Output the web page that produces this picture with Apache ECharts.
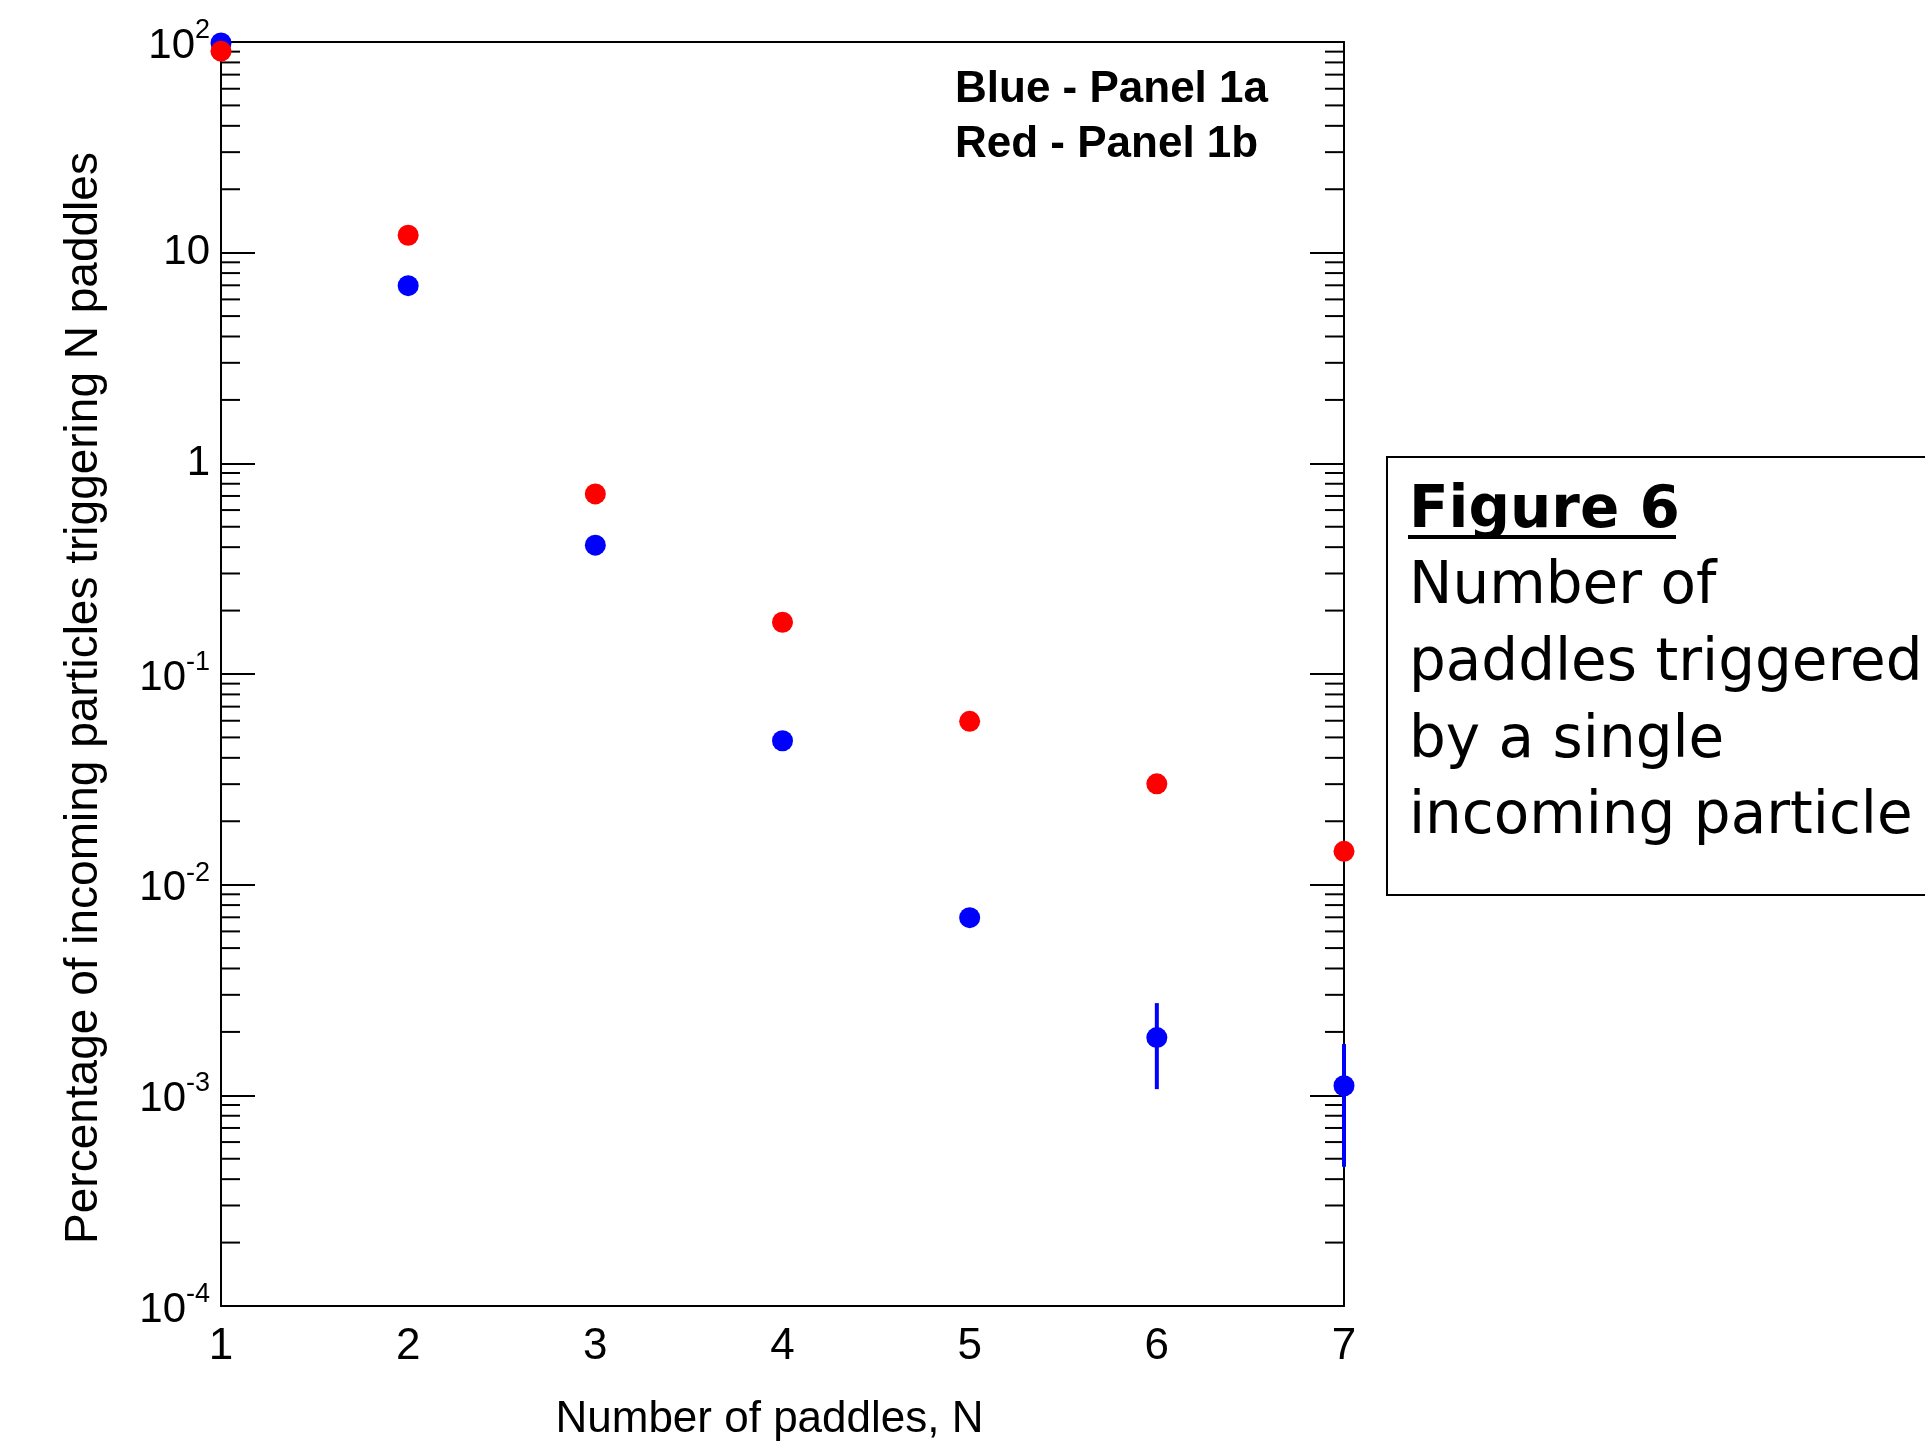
<!DOCTYPE html>
<html><head><meta charset="utf-8">
<script src="https://cdn.jsdelivr.net/npm/echarts@6/dist/echarts.min.js"></script>
<style>html,body{margin:0;padding:0;background:#fff}#c{width:1925px;height:1447px}</style>
</head><body><div id="c"></div>
<script>
const paddles = [1, 2, 3, 4, 5, 6, 7];
const bluePanel1a = [99, 6.97, 0.409, 0.0482, 0.00697, 0.00188, 0.00111];
const redPanel1b = [90.5, 12.1, 0.716, 0.176, 0.0596, 0.0301, 0.0144];
const blueErrLow = [null, null, null, null, null, 0.00107, 0.000458];
const blueErrHigh = [null, null, null, null, null, 0.00274, 0.00175];
const yTickValues = [1e-4, 1e-3, 1e-2, 1e-1, 1, 10, 100];
const yTickLabels = ['{b|10}{e|-4}', '{b|10}{e|-3}', '{b|10}{e|-2}', '{b|10}{e|-1}', '{n|1}', '{n|10}', '{b|10}{e|2}'];
const minorMultipliers = [2, 3, 4, 5, 6, 7, 8, 9];
const decades = [1e-4, 1e-3, 1e-2, 1e-1, 1, 10];
const legendLines = ['Blue - Panel 1a', 'Red - Panel 1b'];
const captionTitle = 'Figure 6';
const captionLines = ['Number of', 'paddles triggered', 'by a single', 'incoming particle'];

const minorTickValues = [];
decades.forEach(d => minorMultipliers.forEach(m => minorTickValues.push(+(d * m).toPrecision(6))));

const FONT = '"Liberation Sans", Arial, sans-serif';
const chart = echarts.init(document.getElementById('c'), null, {renderer: 'canvas'});

function yLabel(v) {
  let best = 0, bd = Infinity;
  yTickValues.forEach((t, i) => { const d = Math.abs(Math.log10(v) - Math.log10(t)); if (d < bd) { bd = d; best = i; } });
  return yTickLabels[best];
}

const common = {fontFamily: FONT, color: '#000'};
const option = {
  backgroundColor: '#fff',
  animation: false,
  grid: {left: 221, right: 581, top: 42, bottom: 133, containLabel: false},
  xAxis: [{
    type: 'value', min: 1, max: 7, interval: 1, position: 'bottom',
    axisLine: {show: true, onZero: false, lineStyle: {color: '#000', width: 2}},
    axisTick: {show: false}, splitLine: {show: false},
    axisLabel: Object.assign({fontSize: 44, margin: 19}, common),
    name: 'Number of paddles, N', nameLocation: 'middle', nameGap: 92,
    nameTextStyle: Object.assign({fontSize: 44, padding: [0, 26, 0, 0]}, common)
  }, {
    type: 'value', min: 1, max: 7, position: 'top',
    axisLine: {show: true, onZero: false, lineStyle: {color: '#000', width: 2}},
    axisTick: {show: false}, axisLabel: {show: false}, splitLine: {show: false}
  }],
  yAxis: [{
    type: 'log', logBase: 10, min: 1e-4, max: 100, splitNumber: 6, position: 'left',
    axisLine: {show: true, onZero: false, lineStyle: {color: '#000', width: 2}},
    axisTick: {show: true, inside: true, length: 34, lineStyle: {color: '#000', width: 2}},
    splitLine: {show: false},
    axisLabel: {
      margin: 11, formatter: yLabel,
      rich: {
        b: {fontFamily: FONT, fontSize: 42, color: '#000', lineHeight: 50, verticalAlign: 'bottom'},
        e: {fontFamily: FONT, fontSize: 27, color: '#000', lineHeight: 27, verticalAlign: 'top'},
        n: {fontFamily: FONT, fontSize: 42, color: '#000', lineHeight: 42}
      }
    },
    name: 'Percentage of incoming particles triggering N paddles', nameLocation: 'middle', nameGap: 114,
    nameTextStyle: Object.assign({fontSize: 46, padding: [0, 48, 0, 0]}, common)
  }, {
    type: 'log', logBase: 10, min: 1e-4, max: 100, splitNumber: 6, position: 'right',
    axisLine: {show: true, onZero: false, lineStyle: {color: '#000', width: 2}},
    axisTick: {show: true, inside: true, length: 34, lineStyle: {color: '#000', width: 2}},
    axisLabel: {show: false}, splitLine: {show: false}
  }],
  series: [{
    type: 'custom', silent: true, xAxisIndex: 0, yAxisIndex: 0, clip: false,
    data: minorTickValues.map(v => [1, v]),
    encode: {x: 0, y: 1},
    renderItem: (params, api) => {
      const v = api.value(1);
      const pL = api.coord([1, v]);
      const pR = api.coord([7, v]);
      return {type: 'group', children: [
        {type: 'line', shape: {x1: pL[0], y1: pL[1], x2: pL[0] + 19, y2: pL[1]}, style: {stroke: '#000', lineWidth: 2}},
        {type: 'line', shape: {x1: pR[0] - 19, y1: pR[1], x2: pR[0], y2: pR[1]}, style: {stroke: '#000', lineWidth: 2}}
      ]};
    }
  }, {
    type: 'custom', silent: true, xAxisIndex: 0, yAxisIndex: 0, clip: false,
    data: paddles.map((n, i) => [n, bluePanel1a[i], blueErrLow[i], blueErrHigh[i]]).filter(d => d[2] != null),
    encode: {x: 0, y: [2, 3]},
    renderItem: (params, api) => {
      const x = api.value(0);
      const lo = api.coord([x, api.value(2)]);
      const hi = api.coord([x, api.value(3)]);
      return {type: 'line', shape: {x1: lo[0], y1: lo[1], x2: hi[0], y2: hi[1]}, style: {stroke: '#0000ff', lineWidth: 4}};
    }
  }, {
    name: 'Panel 1a', type: 'scatter', symbol: 'circle', symbolSize: 21, clip: false,
    itemStyle: {color: '#0000ff', opacity: 1},
    data: paddles.map((n, i) => [n, bluePanel1a[i]])
  }, {
    name: 'Panel 1b', type: 'scatter', symbol: 'circle', symbolSize: 21, clip: false,
    itemStyle: {color: '#ff0000', opacity: 1},
    data: paddles.map((n, i) => [n, redPanel1b[i]])
  }],
  graphic: [
    {type: 'text', left: 955, top: 68, style: {text: legendLines[0], font: 'bold 44px ' + FONT, fill: '#000'}},
    {type: 'text', left: 955, top: 123, style: {text: legendLines[1], font: 'bold 44px ' + FONT, fill: '#000'}},
    {type: 'rect', shape: {x: 1387, y: 457, width: 700, height: 438}, style: {fill: 'none', stroke: '#000', lineWidth: 2}},
    {type: 'text', x: 1409, y: 512, style: {text: captionTitle, font: 'bold 58px "DejaVu Sans"', fill: '#000', verticalAlign: 'middle'}},
    {type: 'line', shape: {x1: 1408, y1: 537, x2: 1676, y2: 537}, style: {stroke: '#000', lineWidth: 4}},
    {type: 'text', x: 1409, y: 588, style: {text: captionLines[0], font: '58px "DejaVu Sans"', fill: '#000', verticalAlign: 'middle'}},
    {type: 'text', x: 1409, y: 665, style: {text: captionLines[1], font: '58px "DejaVu Sans"', fill: '#000', verticalAlign: 'middle'}},
    {type: 'text', x: 1409, y: 742, style: {text: captionLines[2], font: '58px "DejaVu Sans"', fill: '#000', verticalAlign: 'middle'}},
    {type: 'text', x: 1409, y: 818, style: {text: captionLines[3], font: '58px "DejaVu Sans"', fill: '#000', verticalAlign: 'middle'}}
  ]
};
chart.setOption(option);
</script>
</body></html>
